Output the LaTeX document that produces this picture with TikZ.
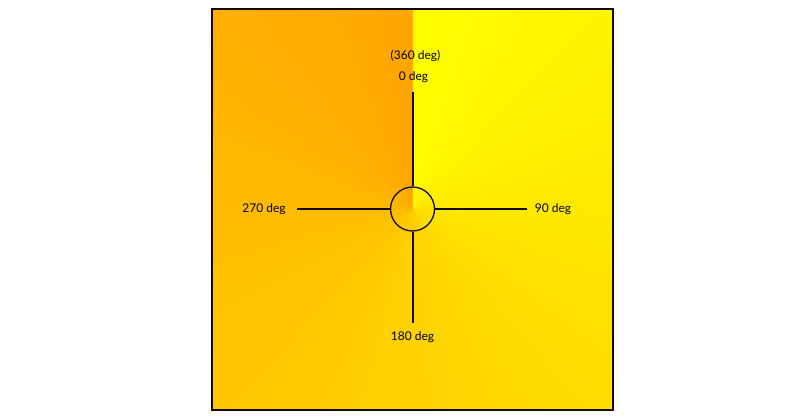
\documentclass[tikz,border=0pt]{standalone}
\usepackage{fontspec}
\setmainfont{Lato}
\definecolor{myorange}{RGB}{255,165,0}
\definecolor{myline}{RGB}{20,10,0}
\tikzset{
  lbl/.style={font=\fontsize{12}{14}\selectfont, text=black, inner sep=0pt},
  spoke/.style={draw=myline, line width=2pt},
}
\begin{document}
\begin{tikzpicture}[x=1pt,y=1pt]
\useasboundingbox (0,0) rectangle (800,420);
\coordinate (c) at (412.5,211);
\begin{scope}
  \clip (212,10) rectangle (613,411);
  \fill[myorange] (212,10) rectangle (613,411);
  \foreach \i in {0,...,359}{
    \pgfmathsetmacro\p{\i/3.6}
    \pgfmathsetmacro\e{min(\i+1.6,360)}
    \fill[myorange!\p!yellow, shift={(c)}] (0,0) -- ({90-\i}:420) -- ({90-\e}:420) -- cycle;
  }
\end{scope}
\draw[myline, line width=1.2pt] (212,10) rectangle (613,411) ;
\node[draw=myline, line width=1.3pt, circle, minimum size=44pt, inner sep=0pt] (hub) at (c) {};
\node[lbl] (t360) at (415.5,364) {(360 deg)};
\node[lbl] (t0) at (413.5,343) {0 deg};
\node[lbl] (t90) at (553,211) {90 deg};
\node[lbl] (t180) at (412.5,83) {180 deg};
\node[lbl] (t270) at (264,211) {270 deg};
\coordinate (eN) at (412.5,328);
\coordinate (eE) at (527,211);
\coordinate (eS) at (412.5,97);
\coordinate (eW) at (297,211);
\draw[spoke] (hub.north) -- (eN);
\draw[spoke] (hub.east) -- (eE);
\draw[spoke] (hub.south) -- (eS);
\draw[spoke] (hub.west) -- (eW);
\end{tikzpicture}
\end{document}
